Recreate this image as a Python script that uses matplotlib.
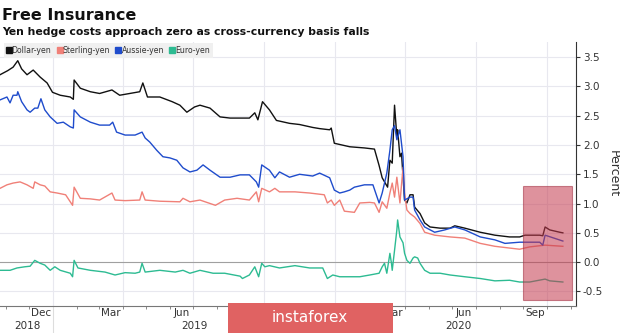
import pandas as pd
import matplotlib.pyplot as plt
import matplotlib.dates as mdates
import matplotlib.transforms as mtransforms
from matplotlib.patches import Rectangle

# Cost of hedging yen
dollar_dates = ['2018-10-24', '2018-11-03', '2018-11-10', '2018-11-16', '2018-11-21', '2018-11-28',
                '2018-12-06', '2018-12-15', '2018-12-24', '2018-12-31', '2019-01-10', '2019-01-23',
                '2019-01-27', '2019-01-28', '2019-02-05', '2019-02-18', '2019-03-02', '2019-03-18',
                '2019-03-28', '2019-04-10', '2019-04-23', '2019-04-27', '2019-05-03', '2019-05-19',
                '2019-06-04', '2019-06-14', '2019-06-23', '2019-07-03', '2019-07-10', '2019-07-23',
                '2019-08-05', '2019-08-18', '2019-08-31', '2019-09-12', '2019-09-19', '2019-09-23',
                '2019-09-29', '2019-10-08', '2019-10-17', '2019-11-03', '2019-11-16', '2019-12-03',
                '2019-12-12', '2019-12-25', '2019-12-27', '2019-12-31', '2020-01-20', '2020-02-08',
                '2020-02-21', '2020-02-27', '2020-03-02', '2020-03-09', '2020-03-12', '2020-03-15',
                '2020-03-18', '2020-03-21', '2020-03-22', '2020-03-25', '2020-03-27', '2020-03-31',
                '2020-04-03', '2020-04-07', '2020-04-11', '2020-04-13', '2020-04-20', '2020-04-26',
                '2020-05-03', '2020-05-16', '2020-05-29', '2020-06-04', '2020-06-17', '2020-07-07',
                '2020-07-26', '2020-08-14', '2020-08-27', '2020-09-03', '2020-09-22', '2020-09-26',
                '2020-09-29', '2020-10-05', '2020-10-18', '2020-10-22']
dollar_vals = [3.20, 3.27, 3.33, 3.44, 3.30, 3.20,
               3.28, 3.16, 3.06, 2.90, 2.85, 2.82,
               2.78, 3.11, 2.97, 2.91, 2.88, 2.94,
               2.85, 2.88, 2.91, 3.06, 2.82, 2.82,
               2.74, 2.68, 2.56, 2.65, 2.68, 2.63,
               2.48, 2.46, 2.46, 2.46, 2.55, 2.43,
               2.74, 2.60, 2.42, 2.37, 2.35, 2.30,
               2.28, 2.26, 2.29, 2.03, 1.97, 1.95,
               1.93, 1.65, 1.44, 1.28, 1.74, 1.69,
               2.68, 2.14, 2.26, 1.80, 1.86, 1.06,
               1.01, 1.15, 1.15, 0.94, 0.83, 0.67,
               0.60, 0.58, 0.58, 0.62, 0.58, 0.51,
               0.46, 0.43, 0.43, 0.46, 0.46, 0.45,
               0.60, 0.55, 0.51, 0.50]

sterling_dates = ['2018-10-24', '2018-11-02', '2018-11-10', '2018-11-19', '2018-11-28', '2018-12-06',
                  '2018-12-08', '2018-12-15', '2018-12-21', '2018-12-28', '2019-01-06', '2019-01-17',
                  '2019-01-26', '2019-01-28', '2019-02-05', '2019-02-18', '2019-03-02', '2019-03-18',
                  '2019-03-22', '2019-04-04', '2019-04-23', '2019-04-26', '2019-04-30', '2019-05-19',
                  '2019-06-14', '2019-06-18', '2019-06-27', '2019-07-10', '2019-07-30', '2019-08-11',
                  '2019-08-27', '2019-09-12', '2019-09-21', '2019-09-24', '2019-09-28', '2019-10-08',
                  '2019-10-15', '2019-10-21', '2019-11-10', '2019-11-29', '2019-12-18', '2019-12-22',
                  '2019-12-27', '2019-12-31', '2020-01-07', '2020-01-13', '2020-01-26', '2020-02-02',
                  '2020-02-15', '2020-02-21', '2020-02-27', '2020-03-02', '2020-03-08', '2020-03-12',
                  '2020-03-15', '2020-03-18', '2020-03-21', '2020-03-25', '2020-03-29', '2020-03-31',
                  '2020-04-03', '2020-04-07', '2020-04-13', '2020-04-20', '2020-04-26', '2020-05-09',
                  '2020-05-29', '2020-06-17', '2020-07-07', '2020-07-26', '2020-08-14', '2020-08-27',
                  '2020-09-09', '2020-09-29', '2020-10-22']
sterling_vals = [1.26, 1.32, 1.35, 1.37, 1.32, 1.26,
                 1.37, 1.32, 1.30, 1.20, 1.18, 1.15,
                 0.97, 1.28, 1.09, 1.08, 1.06, 1.18,
                 1.06, 1.05, 1.06, 1.20, 1.06, 1.04,
                 1.03, 1.09, 1.03, 1.06, 0.97, 1.06,
                 1.09, 1.06, 1.20, 1.03, 1.26, 1.20,
                 1.26, 1.20, 1.20, 1.18, 1.15, 1.01,
                 1.06, 0.97, 1.06, 0.87, 0.85, 1.01,
                 1.02, 1.01, 0.85, 1.03, 0.92, 1.18,
                 1.35, 1.11, 1.45, 1.01, 1.62, 1.18,
                 0.89, 0.83, 0.77, 0.66, 0.51, 0.46,
                 0.43, 0.41, 0.32, 0.27, 0.24, 0.22,
                 0.26, 0.29, 0.27]

aussie_dates = ['2018-10-24', '2018-11-02', '2018-11-06', '2018-11-10', '2018-11-15', '2018-11-16',
                '2018-11-21', '2018-11-28', '2018-12-02', '2018-12-08', '2018-12-12', '2018-12-16',
                '2018-12-21', '2018-12-28', '2019-01-06', '2019-01-14', '2019-01-23', '2019-01-27',
                '2019-01-28', '2019-02-05', '2019-02-18', '2019-03-02', '2019-03-15', '2019-03-19',
                '2019-03-24', '2019-04-04', '2019-04-17', '2019-04-26', '2019-04-30', '2019-05-06',
                '2019-05-15', '2019-05-23', '2019-06-01', '2019-06-10', '2019-06-18', '2019-06-27',
                '2019-07-06', '2019-07-14', '2019-07-23', '2019-08-05', '2019-08-18', '2019-08-31',
                '2019-09-12', '2019-09-21', '2019-09-24', '2019-09-28', '2019-10-08', '2019-10-15',
                '2019-10-21', '2019-11-03', '2019-11-16', '2019-12-03', '2019-12-12', '2019-12-25',
                '2019-12-31', '2020-01-07', '2020-01-13', '2020-01-20', '2020-01-26', '2020-02-08',
                '2020-02-19', '2020-02-27', '2020-03-02', '2020-03-08', '2020-03-12', '2020-03-15',
                '2020-03-18', '2020-03-21', '2020-03-25', '2020-03-29', '2020-03-31', '2020-04-07',
                '2020-04-11', '2020-04-13', '2020-04-20', '2020-04-26', '2020-05-09', '2020-05-22',
                '2020-06-04', '2020-06-17', '2020-07-07', '2020-07-26', '2020-08-08', '2020-08-27',
                '2020-09-22', '2020-09-26', '2020-09-29', '2020-10-22']
aussie_vals = [2.77, 2.82, 2.72, 2.85, 2.85, 2.91,
               2.74, 2.60, 2.56, 2.63, 2.63, 2.79,
               2.60, 2.48, 2.37, 2.39, 2.31, 2.29,
               2.60, 2.48, 2.39, 2.34, 2.34, 2.39,
               2.22, 2.17, 2.17, 2.22, 2.12, 2.05,
               1.91, 1.80, 1.78, 1.74, 1.61, 1.54,
               1.57, 1.66, 1.57, 1.45, 1.45, 1.49,
               1.49, 1.37, 1.28, 1.66, 1.57, 1.44,
               1.54, 1.45, 1.50, 1.47, 1.52, 1.44,
               1.23, 1.18, 1.20, 1.23, 1.28, 1.32,
               1.32, 1.01, 1.18, 1.52, 1.91, 2.26,
               2.33, 2.09, 2.26, 1.80, 1.06, 1.11,
               1.11, 0.89, 0.72, 0.60, 0.51, 0.55,
               0.60, 0.55, 0.43, 0.38, 0.32, 0.34,
               0.34, 0.29, 0.46, 0.36]

euro_dates = ['2018-10-24', '2018-11-06', '2018-11-15', '2018-11-25', '2018-12-02', '2018-12-08',
              '2018-12-15', '2018-12-21', '2018-12-28', '2019-01-03', '2019-01-10', '2019-01-23',
              '2019-01-26', '2019-01-28', '2019-02-02', '2019-02-18', '2019-03-09', '2019-03-22',
              '2019-04-04', '2019-04-17', '2019-04-23', '2019-04-26', '2019-04-30', '2019-05-19',
              '2019-06-08', '2019-06-18', '2019-06-27', '2019-07-10', '2019-07-27', '2019-08-11',
              '2019-08-31', '2019-09-03', '2019-09-12', '2019-09-19', '2019-09-24', '2019-09-28',
              '2019-10-02', '2019-10-08', '2019-10-21', '2019-11-10', '2019-11-29', '2019-12-16',
              '2019-12-22', '2019-12-29', '2020-01-07', '2020-01-13', '2020-02-02', '2020-02-15',
              '2020-02-27', '2020-03-02', '2020-03-05', '2020-03-08', '2020-03-12', '2020-03-14',
              '2020-03-15', '2020-03-18', '2020-03-21', '2020-03-22', '2020-03-25', '2020-03-29',
              '2020-03-31', '2020-04-03', '2020-04-07', '2020-04-11', '2020-04-13', '2020-04-17',
              '2020-04-20', '2020-04-26', '2020-05-03', '2020-05-16', '2020-05-29', '2020-06-17',
              '2020-07-07', '2020-07-26', '2020-08-14', '2020-08-27', '2020-09-09', '2020-09-29',
              '2020-10-05', '2020-10-22']
euro_vals = [-0.14, -0.14, -0.10, -0.08, -0.07, 0.03,
             -0.02, -0.05, -0.14, -0.08, -0.14, -0.19,
             -0.25, 0.03, -0.10, -0.14, -0.17, -0.22,
             -0.18, -0.19, -0.17, -0.02, -0.17, -0.14,
             -0.17, -0.14, -0.19, -0.14, -0.19, -0.19,
             -0.24, -0.28, -0.22, -0.08, -0.25, -0.02,
             -0.08, -0.06, -0.10, -0.06, -0.10, -0.10,
             -0.28, -0.22, -0.25, -0.25, -0.25, -0.22,
             -0.19, -0.08, -0.02, -0.19, 0.15, -0.02,
             -0.14, 0.20, 0.55, 0.72, 0.43, 0.33,
             0.15, 0.03, -0.02, 0.07, 0.09, 0.07,
             -0.02, -0.14, -0.19, -0.19, -0.22, -0.25,
             -0.28, -0.32, -0.31, -0.34, -0.34, -0.29,
             -0.32, -0.34]

series_names = ['Dollar-yen', 'Sterling-yen', 'Aussie-yen', 'Euro-yen']
series_colors = ['#111111', '#f08078', '#1f4ccc', '#2dbb92']

plt.rcParams['font.family'] = 'DejaVu Sans'
fig = plt.figure(figsize=(6.2, 3.33), dpi=100)
ax = fig.add_axes([0.0, 0.081, 0.929, 0.793])

data = [(dollar_dates, dollar_vals), (sterling_dates, sterling_vals),
        (aussie_dates, aussie_vals), (euro_dates, euro_vals)]
handles = []
for (d, v), name, col in zip(data, series_names, series_colors):
    ax.plot(pd.to_datetime(d), v, color=col, lw=1.0, zorder=3)
    h, = ax.plot([], [], 's', color=col, ms=4, label=name)
    handles.append(h)

ax.set_xlim(pd.Timestamp('2018-10-24'), pd.Timestamp('2020-11-08'))
ax.set_ylim(-0.75, 3.76)

# highlighted box around the latest readings
x0 = mdates.date2num(pd.Timestamp('2020-08-31'))
x1 = mdates.date2num(pd.Timestamp('2020-11-03'))
ax.add_patch(Rectangle((x0, -0.65), x1 - x0, 1.95, facecolor='#c4394d', alpha=0.55,
                       edgecolor='#a02a3c', lw=0.8, zorder=4))

# y axis on the right
ax.yaxis.tick_right()
ax.yaxis.set_label_position('right')
ax.set_yticks([-0.5, 0.0, 0.5, 1.0, 1.5, 2.0, 2.5, 3.0, 3.5])
ax.set_yticklabels(['-0.5', '0.0', '0.5', '1.0', '1.5', '2.0', '2.5', '3.0', '3.5'])
ax.tick_params(axis='y', labelsize=7.5, length=3, color='#333333', pad=2, labelcolor='#333333')
ax.set_ylabel('Percent', rotation=270, fontsize=9, color='#333333', labelpad=12)

# gridlines
for yv in [-0.5, 0.5, 1.0, 1.5, 2.0, 2.5, 3.0, 3.5]:
    ax.axhline(yv, color='#e8e8ef', lw=0.8, zorder=1)
ax.axhline(0.0, color='#a0a0a0', lw=0.8, zorder=2)
for q in ['2019-01-01', '2019-04-01', '2019-07-01', '2019-10-01',
          '2020-01-01', '2020-04-01', '2020-07-01', '2020-10-01']:
    ax.axvline(pd.Timestamp(q), color='#e8e8ef', lw=0.8, zorder=1)

# x axis: month labels centred in the month, small ticks at every month start
month_labels = ['Dec', 'Mar', 'Jun', 'Sep', 'Dec', 'Mar', 'Jun', 'Sep']
month_mids = ['2018-12-16', '2019-03-16', '2019-06-16', '2019-09-16',
              '2019-12-16', '2020-03-16', '2020-06-16', '2020-09-16']
ax.set_xticks(pd.to_datetime(month_mids))
ax.set_xticklabels(month_labels)
ax.xaxis.set_minor_locator(mdates.MonthLocator())
ax.tick_params(axis='x', which='major', length=0, labelsize=7.5, pad=1.5, labelcolor='#333333')
ax.tick_params(axis='x', which='minor', length=2.5, color='#777777')

for s in ['top', 'left']:
    ax.spines[s].set_visible(False)
ax.spines['right'].set_color('#333333')
ax.spines['bottom'].set_color('#777777')

# year labels and separators
trans = mtransforms.blended_transform_factory(ax.transData, ax.transAxes)
year_labels = ['2018', '2019', '2020']
year_pos = ['2018-11-28', '2019-07-03', '2020-06-09']
for lab, p in zip(year_labels, year_pos):
    ax.text(pd.Timestamp(p), -0.077, lab, transform=trans, ha='center', va='center',
            fontsize=7.5, color='#333333')
for yb in ['2019-01-01', '2020-01-01']:
    ax.plot([pd.Timestamp(yb)] * 2, [0, -0.11], transform=trans, color='#dddddd',
            lw=0.8, clip_on=False)

ax.legend(handles=handles, loc='upper left', bbox_to_anchor=(0.0, 1.01), ncol=4,
          fontsize=5.6, frameon=True, facecolor='#f0f0f0', edgecolor='none', framealpha=1,
          handlelength=0.5, handletextpad=0.15, columnspacing=0.8, borderpad=0.35,
          fancybox=False, labelcolor='#333333')

fig.text(0.003, 0.975, 'Free Insurance', fontsize=11.5, fontweight='bold', va='top', color='#111111')
fig.text(0.003, 0.905, 'Yen hedge costs approach zero as cross-currency basis falls',
         fontsize=7.8, fontweight='bold', va='center', color='#111111')

# watermark strip at the bottom
fig.patches.append(Rectangle((228 / 620, 0), 165 / 620, 30 / 333, transform=fig.transFigure,
                             facecolor='#e06262', edgecolor='none', zorder=10))
fig.text(310 / 620, 15 / 333, 'instaforex', fontsize=11, color='white', ha='center',
         va='center', zorder=11)

fig.savefig('out.png', dpi=100, facecolor='white')
